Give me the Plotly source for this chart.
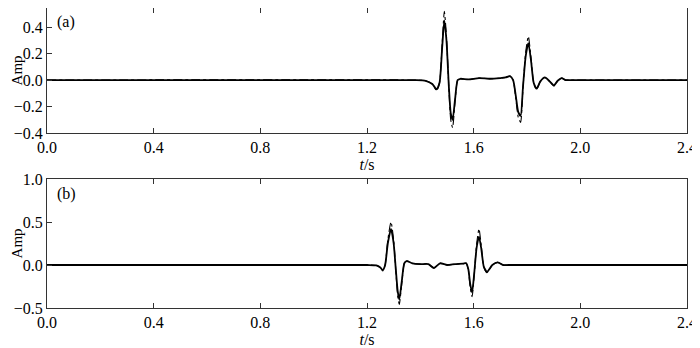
import plotly.graph_objects as go

# ---- data ----
t_a = [0, 1.38, 1.42, 1.445, 1.461, 1.472, 1.482, 1.490, 1.498, 1.507, 1.514, 1.521, 1.530, 1.540,
       1.55, 1.58, 1.62, 1.66, 1.70, 1.72, 1.736, 1.748, 1.758, 1.767, 1.776, 1.785, 1.795, 1.805,
       1.815, 1.825, 1.836, 1.85, 1.867, 1.885, 1.901, 1.915, 1.93, 1.945, 1.96, 2.4]
solid_a = [0, 0, -0.005, -0.03, -0.07, -0.02, 0.25, 0.45, 0.30, -0.05, -0.25, -0.30, -0.15, 0.00,
           0.01, 0.005, 0.015, 0.01, 0.015, 0.02, 0.03, 0.0, -0.12, -0.24, -0.27, -0.05, 0.18, 0.28,
           0.15, -0.02, -0.065, -0.01, 0.02, -0.01, -0.04, -0.005, 0.015, 0.0, 0.0, 0.0]
dash_a = [0, 0, -0.005, -0.03, -0.08, -0.02, 0.28, 0.52, 0.33, -0.06, -0.30, -0.36, -0.17, 0.00,
          0.01, 0.005, 0.015, 0.01, 0.015, 0.02, 0.03, 0.0, -0.14, -0.28, -0.32, -0.06, 0.21, 0.33,
          0.17, -0.02, -0.07, -0.01, 0.02, -0.01, -0.045, -0.005, 0.015, 0.0, 0.0, 0.0]

t_b = [0, 1.20, 1.235, 1.25, 1.259, 1.268, 1.278, 1.290, 1.300, 1.308, 1.315, 1.321, 1.330, 1.340,
       1.349, 1.37, 1.40, 1.43, 1.451, 1.474, 1.50, 1.53, 1.56, 1.572, 1.58, 1.587, 1.594, 1.602,
       1.611, 1.620, 1.629, 1.638, 1.650, 1.67, 1.69, 1.71, 1.73, 2.4]
solid_b = [0, 0, -0.005, -0.03, -0.06, 0.0, 0.25, 0.42, 0.25, -0.05, -0.30, -0.40, -0.20, 0.02,
           0.045, 0.02, 0.01, 0.01, -0.035, 0.02, 0.0, 0.01, 0.015, 0.02, -0.05, -0.22, -0.32, -0.10,
           0.20, 0.33, 0.18, -0.02, -0.08, 0.0, 0.03, 0.0, 0.0, 0.0]
dash_b = [0, 0, -0.005, -0.03, -0.07, 0.0, 0.29, 0.50, 0.29, -0.06, -0.36, -0.46, -0.23, 0.02,
          0.05, 0.02, 0.01, 0.01, -0.035, 0.02, 0.0, 0.01, 0.015, 0.02, -0.06, -0.26, -0.37, -0.12,
          0.24, 0.42, 0.21, -0.02, -0.09, 0.0, 0.03, 0.0, 0.0, 0.0]

x_ticks = [0.0, 0.4, 0.8, 1.2, 1.6, 2.0, 2.4]
y_ticks_a = [-0.4, -0.2, 0.0, 0.2, 0.4]
y_ticks_b = [-0.5, 0.0, 0.5, 1.0]

font = "Liberation Serif"
fs = 16
fig = go.Figure()

for t, s, d, xa, ya in [(t_a, solid_a, dash_a, "x", "y"), (t_b, solid_b, dash_b, "x2", "y2")]:
    fig.add_trace(go.Scatter(x=t, y=s, mode="lines", line=dict(color="black", width=1.8, shape="spline", smoothing=0.6),
                             xaxis=xa, yaxis=ya, showlegend=False))
    fig.add_trace(go.Scatter(x=t, y=d, mode="lines", line=dict(color="black", width=1.1, dash="dashdot", shape="spline", smoothing=0.6),
                             xaxis=xa, yaxis=ya, showlegend=False))

axis_common = dict(showgrid=False, zeroline=False, showline=True, linecolor="#333", linewidth=1,
                   ticks="inside", ticklen=5, tickcolor="#333", automargin=False,
                   tickfont=dict(family=font, size=fs, color="black"))

fig.update_layout(
    width=692, height=340,
    margin=dict(l=39, r=13, t=0, b=40),
    paper_bgcolor="white", plot_bgcolor="white",
    font=dict(family=font, size=fs, color="black"),
    xaxis=dict(domain=[0, 1], range=[0, 2.4], tickvals=x_ticks, tickformat=".1f", anchor="y", mirror="ticks",
               title=dict(text="<i>t</i>/s", font=dict(family=font, size=fs), standoff=0), **axis_common),
    yaxis=dict(domain=[0.5833, 1], range=[-0.4, 0.545], tickvals=y_ticks_a, tickformat=".1f", anchor="x", mirror=True,
               **axis_common),
    xaxis2=dict(domain=[0, 1], range=[0, 2.4], tickvals=x_ticks, tickformat=".1f", anchor="y2", mirror="ticks",
                title=dict(text="<i>t</i>/s", font=dict(family=font, size=fs), standoff=0), **axis_common),
    yaxis2=dict(domain=[0, 0.43], range=[-0.5, 1.0], tickvals=y_ticks_b, tickformat=".1f", anchor="x2", mirror=True,
                **axis_common),
    annotations=[
        dict(text="(a)", xref="x domain", yref="y domain", x=0.012, y=0.98, xanchor="left", yanchor="top",
             showarrow=False, font=dict(family=font, size=fs)),
        dict(text="(b)", xref="x2 domain", yref="y2 domain", x=0.012, y=0.97, xanchor="left", yanchor="top",
             showarrow=False, font=dict(family=font, size=fs)),
        dict(text="Amp", xref="paper", yref="y domain", x=-0.047, y=0.5, xanchor="center", yanchor="middle",
             textangle=-90, showarrow=False, font=dict(family=font, size=15)),
        dict(text="Amp", xref="paper", yref="y2 domain", x=-0.047, y=0.5, xanchor="center", yanchor="middle",
             textangle=-90, showarrow=False, font=dict(family=font, size=15)),
    ],
)

fig.write_html("out.html")
